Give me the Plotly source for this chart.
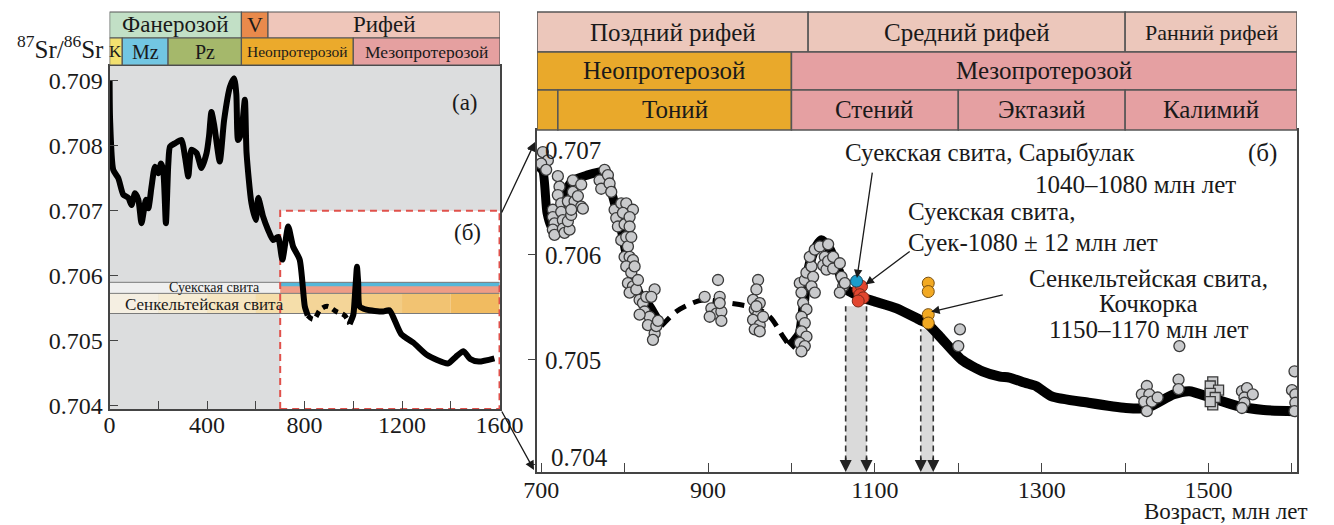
import plotly.graph_objects as go

FONT = "Liberation Serif"

# ---------------- Left panel (a): Sr curve 0-1600 Ma ----------------
left_age = [0, 2, 15, 36, 56, 77, 90, 104, 118, 131, 149, 159, 172, 186, 200, 211, 220, 231, 241, 248,
            268, 295, 309, 323, 336, 357, 377, 398, 408, 418, 430, 452, 470, 494, 511, 520, 527, 540,
            555, 562, 582, 600, 610, 630, 650, 671, 691, 709, 733, 753, 780, 801, 813]
left_sr = [0.7090, 0.7084, 0.70763, 0.7075, 0.70725, 0.7072, 0.70709, 0.70727, 0.70717, 0.70681,
           0.70717, 0.70704, 0.70737, 0.70768, 0.70758, 0.70773, 0.70763, 0.70681, 0.70773, 0.70799,
           0.70804, 0.70809, 0.70784, 0.70753, 0.70794, 0.70789, 0.70766, 0.70789, 0.70815, 0.70852,
           0.70830, 0.70776, 0.70840, 0.70891, 0.70904, 0.70880, 0.70809, 0.70820, 0.70871, 0.70789,
           0.70712, 0.70686, 0.70720, 0.70691, 0.70671, 0.70655, 0.70660, 0.70625, 0.70676, 0.70645,
           0.70625, 0.70553, 0.70539]
left_dash_age = [813, 837, 865, 893, 930, 964, 985]
left_dash_sr = [0.70539, 0.70533, 0.70548, 0.70553, 0.70545, 0.70539, 0.70526]
left_age2 = [985, 1000, 1006, 1012, 1015, 1020, 1026, 1054, 1122, 1148, 1197, 1247, 1303, 1388, 1420,
             1452, 1480, 1515, 1579]
left_sr2 = [0.70526, 0.70540, 0.70566, 0.70600, 0.70614, 0.70590, 0.70553, 0.70548, 0.70545, 0.70547,
            0.70510, 0.70497, 0.70478, 0.70465, 0.70475, 0.70484, 0.70472, 0.70468, 0.70473]

# ---------------- Right panel (б): 700-1600 Ma ----------------
right_age1 = [696, 702, 707, 713, 720, 728, 738, 755, 770, 778, 786, 796, 806, 818, 830, 844]
right_sr1 = [0.70685, 0.70680, 0.70640, 0.70625, 0.70640, 0.70660, 0.70671, 0.70676, 0.70679, 0.70680,
             0.70655, 0.70624, 0.70586, 0.70563, 0.70551, 0.70532]
right_dash_age = [844, 862, 878, 894, 910, 926, 942, 958, 974, 990, 998]
right_dash_sr = [0.70532, 0.70546, 0.70553, 0.70557, 0.70556, 0.70554, 0.70552, 0.70549, 0.70541,
                 0.70522, 0.70513]
right_age2 = [998, 1004, 1010, 1018, 1026, 1036, 1046, 1056, 1066, 1083, 1098, 1126, 1154, 1162, 1178,
              1204, 1229, 1250, 1261, 1280, 1293, 1312, 1356, 1401, 1426, 1458, 1477, 1502, 1534, 1566,
              1603]
right_sr2 = [0.70513, 0.70518, 0.70525, 0.70576, 0.70602, 0.70614, 0.70605, 0.70586, 0.70567, 0.70560,
             0.70556, 0.70549, 0.70538, 0.70535, 0.70522, 0.70500, 0.70489, 0.70484, 0.70483, 0.70478,
             0.70475, 0.70465, 0.70459, 0.70454, 0.70454, 0.70467, 0.70470, 0.70464, 0.70456, 0.70452,
             0.70451]

pts_age = [702, 708, 700, 706, 714, 714, 716, 714, 716, 720, 722, 720, 724, 724, 726, 726, 728, 734, 732,
           736, 734, 732, 738, 738, 740, 744, 748, 748, 750, 736,
           770, 776, 780, 772, 782, 784, 788, 790, 796, 802, 810, 792, 798, 800, 806, 806, 796, 802, 804,
           808, 800, 806, 810, 802, 808, 812, 804, 810, 806, 814, 816, 818, 822, 826, 836, 832, 824, 830,
           818, 828, 836, 838, 840, 834,
           896, 912, 914, 904, 910, 916, 902, 916, 914,
           960, 958, 954, 962, 956, 960, 954, 962, 956, 962, 966, 958,
           1010, 1016, 1018, 1012, 1014, 1018, 1012, 1016, 1012, 1018, 1010, 1016, 1012, 1024, 1026, 1024,
           1028, 1022, 1028, 1034, 1044, 1040, 1038, 1042, 1044, 1050, 1050, 1058, 1060, 1062, 1058, 1064,
           1202, 1200, 1465,
           1426, 1420, 1429, 1423, 1432, 1426, 1439, 1464, 1464,
           1540, 1546, 1543, 1553, 1543, 1540,
           1603, 1600, 1604, 1604, 1603]
pts_sr = [0.70698, 0.70690, 0.70687, 0.70681, 0.70643, 0.70636, 0.70630, 0.70624, 0.70619, 0.70675,
          0.70665, 0.70657, 0.70649, 0.70641, 0.70633, 0.70625, 0.70621, 0.70624, 0.70632, 0.70638,
          0.70648, 0.70651, 0.70671, 0.70660, 0.70651, 0.70656, 0.70667, 0.70646, 0.70644, 0.70643,
          0.70671, 0.70681, 0.70676, 0.70663, 0.70668, 0.70660, 0.70643, 0.70635, 0.70649, 0.70649,
          0.70643, 0.70627, 0.70640, 0.70629, 0.70636, 0.70627, 0.70614, 0.70617, 0.70608, 0.70617,
          0.70598, 0.70598, 0.70595, 0.70589, 0.70583, 0.70589, 0.70573, 0.70570, 0.70564, 0.70567,
          0.70576, 0.70557, 0.70554, 0.70560, 0.70567, 0.70560, 0.70546, 0.70541, 0.70543, 0.70533,
          0.70525, 0.70532, 0.70537, 0.70519,
          0.70560, 0.70576, 0.70560, 0.70549, 0.70544, 0.70546, 0.70541, 0.70537, 0.70554,
          0.70576, 0.70567, 0.70557, 0.70554, 0.70548, 0.70543, 0.70538, 0.70533, 0.70529, 0.70527,
          0.70541, 0.70551,
          0.70573, 0.70576, 0.70583, 0.70564, 0.70554, 0.70548, 0.70541, 0.70535, 0.70527, 0.70522,
          0.70516, 0.70513, 0.70508, 0.70589, 0.70579, 0.70570, 0.70564, 0.70598, 0.70605, 0.70608,
          0.70610, 0.70598, 0.70590, 0.70586, 0.70594, 0.70598, 0.70587, 0.70592, 0.70579, 0.70570,
          0.70564, 0.70573,
          0.70529, 0.70513, 0.70513,
          0.70475, 0.70467, 0.70467, 0.70460, 0.70460, 0.70451, 0.70464, 0.70481, 0.70472,
          0.70470, 0.70473, 0.70464, 0.70467, 0.70459, 0.70454,
          0.70489, 0.70471, 0.70467, 0.70459, 0.70451]
sq_age = [1505, 1502, 1512, 1502, 1505, 1508, 1502]
sq_sr = [0.70479, 0.70475, 0.70471, 0.70468, 0.70457, 0.70464, 0.70460]
blue_age = [1078]
blue_sr = [0.70575]
red_age = [1080, 1084, 1082, 1086, 1080]
red_sr = [0.70567, 0.70570, 0.70562, 0.70559, 0.70556]
orange_age = [1164, 1164, 1164, 1164]
orange_sr = [0.70573, 0.70565, 0.70543, 0.70535]

# Intervals (Ma) for the age headers
left_row1 = [("Фанерозой", 0, 541, "#c2e0c6"), ("V", 541, 650, "#e98a4c"), ("Рифей", 650, 1602, "#efc6ba")]
left_row2 = [("K", 0, 52, "#f2e070"), ("Mz", 52, 240, "#72c6e2"), ("Pz", 240, 541, "#a5b86b"),
             ("Неопротерозой", 541, 1000, "#ebaa2c"), ("Мезопротерозой", 1000, 1602, "#e5a0a0")]
left_row2_sizes = [17, 20, 20, 15.5, 17.5]
right_row1 = [("Поздний рифей", 695, 1020, "#ecc7bb"), ("Средний рифей", 1020, 1400, "#ecc7bb"),
              ("Ранний рифей", 1400, 1606, "#ecc7bb")]
right_row2 = [("Неопротерозой", 695, 1000, "#e9a92b"), ("Мезопротерозой", 1000, 1606, "#e5a0a2")]
right_row3 = [("", 695, 720, "#e9a92b"), ("Тоний", 720, 1000, "#e9a92b"), ("Стений", 1000, 1200, "#e5a0a2"),
              ("Эктазий", 1200, 1400, "#e5a0a2"), ("Калимий", 1400, 1606, "#e5a0a2")]

# Ages of the dated formations (vertical arrows)
band_suek = [1065, 1090]
band_senk = [1155, 1170]

LX = [0, 1602]
LY = [0.70395, 0.70923]
RX = [695, 1606]
RY = [0.70393, 0.70719]

# the page puts the figure 8 px in from the top-left corner
OFF = 8
W, H = 1334 - OFF, 525 - OFF


def px(x):
    return (x - OFF) / W


def py(y):
    return 1 - (y - OFF) / H


fig = go.Figure()

# ---- traces left ----
fig.add_trace(go.Scatter(x=left_age, y=left_sr, mode="lines", line=dict(color="black", width=6, shape="spline", smoothing=0.6),
                         xaxis="x", yaxis="y", showlegend=False))
fig.add_trace(go.Scatter(x=left_dash_age, y=left_dash_sr, mode="lines", line=dict(color="black", width=5, dash="6px,5px", shape="spline"),
                         xaxis="x", yaxis="y", showlegend=False))
fig.add_trace(go.Scatter(x=left_age2, y=left_sr2, mode="lines", line=dict(color="black", width=6, shape="spline", smoothing=0.6),
                         xaxis="x", yaxis="y", showlegend=False))

# ---- traces right ----
fig.add_trace(go.Scatter(x=right_age1, y=right_sr1, mode="lines", line=dict(color="black", width=9, shape="spline", smoothing=0.6),
                         xaxis="x2", yaxis="y2", showlegend=False))
fig.add_trace(go.Scatter(x=right_dash_age, y=right_dash_sr, mode="lines", line=dict(color="black", width=5, dash="12px,8px", shape="spline"),
                         xaxis="x2", yaxis="y2", showlegend=False))
fig.add_trace(go.Scatter(x=right_age2, y=right_sr2, mode="lines", line=dict(color="black", width=10, shape="spline", smoothing=0.6),
                         xaxis="x2", yaxis="y2", showlegend=False))
mk = dict(size=11, color="#c9cacc", line=dict(color="#3a3a3a", width=1.3))
fig.add_trace(go.Scatter(x=pts_age, y=pts_sr, mode="markers", marker=mk, xaxis="x2", yaxis="y2", showlegend=False))
fig.add_trace(go.Scatter(x=sq_age, y=sq_sr, mode="markers", marker=dict(mk, symbol="square", size=10),
                         xaxis="x2", yaxis="y2", showlegend=False))
fig.add_trace(go.Scatter(x=red_age, y=red_sr, mode="markers", marker=dict(size=12, color="#e2462f", line=dict(color="#7a2a1a", width=1)),
                         xaxis="x2", yaxis="y2", showlegend=False))
fig.add_trace(go.Scatter(x=blue_age, y=blue_sr, mode="markers", marker=dict(size=12, color="#1b9ccb", line=dict(color="#1a4a60", width=1)),
                         xaxis="x2", yaxis="y2", showlegend=False))
fig.add_trace(go.Scatter(x=orange_age, y=orange_sr, mode="markers", marker=dict(size=12, color="#f2a922", line=dict(color="#7a5010", width=1)),
                         xaxis="x2", yaxis="y2", showlegend=False))

shapes = []
ann = []

# left panel backgrounds
shapes.append(dict(type="rect", xref="x", yref="y", x0=LX[0], x1=LX[1], y0=LY[0], y1=LY[1],
                   fillcolor="#dcddde", line=dict(width=0), layer="below"))
shapes.append(dict(type="rect", xref="x", yref="y", x0=700, x1=LX[1], y0=LY[0], y1=0.707,
                   fillcolor="white", line=dict(width=0), layer="below"))
# formation bands
shapes.append(dict(type="rect", xref="x", yref="y", x0=0, x1=700, y0=0.70573, y1=0.70590,
                   fillcolor="#efefef", line=dict(width=0), layer="below"))
shapes.append(dict(type="rect", xref="x", yref="y", x0=700, x1=1600, y0=0.70573, y1=0.70590,
                   fillcolor="#ee9c86", line=dict(width=0), layer="below"))
shapes.append(dict(type="rect", xref="x", yref="y", x0=700, x1=1600, y0=0.70584, y1=0.70590,
                   fillcolor="#55b8da", line=dict(width=0), layer="below"))
senk_cols = ["#f5efe2", "#f6ecd4", "#f6e6c2", "#f5deaa", "#f4d598", "#f3cc84", "#f2c372", "#f1bb60"]
for i, c in enumerate(senk_cols):
    shapes.append(dict(type="rect", xref="x", yref="y", x0=i * 200, x1=(i + 1) * 200, y0=0.70542, y1=0.70573,
                       fillcolor=c, line=dict(width=0), layer="below"))
for yy in [0.70590, 0.70573, 0.70542]:
    shapes.append(dict(type="line", xref="x", yref="y", x0=0, x1=1600, y0=yy, y1=yy,
                       line=dict(color="#7a7a7a", width=1), layer="below"))
shapes.append(dict(type="rect", xref="x", yref="y", x0=700, x1=1600, y0=LY[0], y1=0.707,
                   line=dict(color="#e0514b", width=2, dash="7px,5px"), layer="below"))


# headers
def header(row, xref, top, bottom, sizes, lw=1.2):
    for i, (name, a, b, col) in enumerate(row):
        shapes.append(dict(type="rect", xref=xref, yref="paper", x0=a, x1=b, y0=py(bottom), y1=py(top),
                           fillcolor=col, line=dict(color="#555555", width=lw)))
        if name:
            ann.append(dict(xref=xref, yref="paper", x=(a + b) / 2, y=py((top + bottom) / 2), text=name,
                            showarrow=False, font=dict(family=FONT, size=sizes[i], color="#1a1a1a"),
                            xanchor="center", yanchor="middle"))


header(left_row1, "x", 12, 38, [23, 22, 23])
header(left_row2, "x", 38, 65, left_row2_sizes)
header(right_row1, "x2", 12, 52, [25, 25, 22], lw=1.5)
header(right_row2, "x2", 52, 90, [25, 25], lw=1.5)
header(right_row3, "x2", 90, 130, [25, 25, 25, 25, 25], lw=1.5)

# right panel: grey bands + dashed arrows
for (a, b), top in [(band_suek, 0.70551), (band_senk, 0.70529)]:
    shapes.append(dict(type="rect", xref="x2", yref="y2", x0=a, x1=b, y0=RY[0], y1=top,
                       fillcolor="#dadada", line=dict(width=0), layer="below"))
    for xv in (a, b):
        shapes.append(dict(type="line", xref="x2", yref="y2", x0=xv, x1=xv, y0=RY[0] + 0.0001, y1=top,
                           line=dict(color="#333333", width=1.6, dash="6px,4px"), layer="below"))
        ann.append(dict(xref="x2", yref="y2", x=xv, y=RY[0], ax=0, ay=-16, showarrow=True,
                        arrowhead=2, arrowsize=1.6, arrowwidth=1.5, arrowcolor="#222222", text=""))

# text annotations, left panel
tf = dict(family=FONT, color="#1a1a1a")
ann.append(dict(xref="paper", yref="paper", x=px(106), y=py(47), xanchor="right", yanchor="middle",
                text="<sup>87</sup>Sr/<sup>86</sup>Sr", showarrow=False, font=dict(tf, size=25)))
ann.append(dict(xref="x", yref="y", x=1460, y=0.70867, text="(a)", showarrow=False, font=dict(tf, size=23)))
ann.append(dict(xref="x", yref="y", x=1470, y=0.70666, text="(б)", showarrow=False, font=dict(tf, size=23)))
ann.append(dict(xref="x", yref="y", x=430, y=0.70582, text="Суекская свита", showarrow=False, font=dict(tf, size=14)))
ann.append(dict(xref="x", yref="y", x=390, y=0.705565, text="Сенкельтейская свита", showarrow=False, font=dict(tf, size=17)))

# right panel annotations
ann.append(dict(xref="x2", yref="y2", x=1565, y=0.70697, text="(б)", showarrow=False, font=dict(tf, size=25)))
ann.append(dict(xref="paper", yref="paper", x=px(990), y=py(152), text="Суекская свита, Сарыбулак",
                showarrow=False, font=dict(tf, size=25), xanchor="center", yanchor="middle"))
ann.append(dict(xref="paper", yref="paper", x=px(1238), y=py(184), text="1040–1080 млн лет",
                showarrow=False, font=dict(tf, size=25), xanchor="right", yanchor="middle"))
ann.append(dict(xref="paper", yref="paper", x=px(906), y=py(211), text="Суекская свита,",
                showarrow=False, font=dict(tf, size=25), xanchor="left", yanchor="middle"))
ann.append(dict(xref="paper", yref="paper", x=px(906), y=py(242), text="Суек-1080 ± 12 млн лет",
                showarrow=False, font=dict(tf, size=25), xanchor="left", yanchor="middle"))
ann.append(dict(xref="paper", yref="paper", x=px(1148), y=py(278), text="Сенкельтейская свита,",
                showarrow=False, font=dict(tf, size=25), xanchor="center", yanchor="middle"))
ann.append(dict(xref="paper", yref="paper", x=px(1148), y=py(303), text="Кочкорка",
                showarrow=False, font=dict(tf, size=25), xanchor="center", yanchor="middle"))
ann.append(dict(xref="paper", yref="paper", x=px(1148), y=py(329), text="1150–1170 млн лет",
                showarrow=False, font=dict(tf, size=25), xanchor="center", yanchor="middle"))
ann.append(dict(xref="paper", yref="paper", x=px(1310), y=py(511), text="Возраст, млн лет",
                showarrow=False, font=dict(tf, size=23), xanchor="right", yanchor="middle"))
# lowest tick label of the right panel sits just above the axis line
ann.append(dict(xref="paper", yref="y2", x=px(549), y=0.704, yshift=7, text="0.704", showarrow=False,
                font=dict(tf, size=25), xanchor="left", yanchor="middle"))

# pointer arrows to the dated samples
arr = dict(showarrow=True, arrowhead=2, arrowsize=1.3, arrowwidth=1.3, arrowcolor="#1a1a1a", text="", standoff=3)
ann.append(dict(arr, xref="x2", yref="y2", x=blue_age[0], y=blue_sr[0], ax=16, ay=-110))
ann.append(dict(arr, xref="x2", yref="y2", x=red_age[3], y=red_sr[1], ax=48, ay=-36))
ann.append(dict(arr, xref="x2", yref="y2", x=orange_age[2], y=orange_sr[2] + 0.00002, ax=76, ay=-18))

# connecting arrows between panels
conn = dict(showarrow=True, arrowhead=2, arrowsize=1.4, arrowwidth=1.3, arrowcolor="#1a1a1a", text="",
            xref="paper", yref="paper")
ann.append(dict(conn, x=px(535), y=py(142), ax=-34, ay=72))
ann.append(dict(conn, x=px(534), y=py(470), ax=-33, ay=-60))

axis_common = dict(showgrid=False, zeroline=False, showline=True, mirror=True, linecolor="#444444",
                   linewidth=2, tickcolor="#444444", automargin=False, ticklabeloverflow="allow",
                   tickfont=dict(family=FONT, size=24, color="#1a1a1a"))

fig.update_layout(
    width=W, height=H, margin=dict(l=0, r=0, t=0, b=0, autoexpand=False),
    paper_bgcolor="white", plot_bgcolor="white", showlegend=False,
    xaxis=dict(axis_common, domain=[px(109.6), px(500)], range=LX, anchor="y",
               tickvals=[0, 200, 400, 600, 800, 1000, 1200, 1400, 1600],
               ticktext=["0", " ", "400", " ", "800", " ", "1200", " ", "1600"],
               ticks="inside", ticklen=8, ticklabelstandoff=-7),
    yaxis=dict(axis_common, domain=[py(409), py(66)], range=LY, anchor="x",
               tickvals=[0.704, 0.705, 0.706, 0.707, 0.708, 0.709],
               ticktext=["0.704", "0.705", "0.706", "0.707", "0.708", "0.709"],
               ticks="inside", ticklen=8),
    xaxis2=dict(axis_common, domain=[px(537), px(1297)], range=RX, anchor="y2",
                tickvals=[700, 800, 900, 1000, 1100, 1200, 1300, 1400, 1500, 1600],
                ticktext=["700", " ", "900", " ", "1100", " ", "1300", " ", "1500", " "],
                ticks="inside", ticklen=9, ticklabelstandoff=-5),
    yaxis2=dict(axis_common, domain=[py(472), py(130)], range=RY, anchor="x2",
                tickvals=[0.704, 0.705, 0.706, 0.707],
                ticktext=[" ", "0.705", "0.706", "0.707"],
                ticks="outside", ticklen=7, ticklabelposition="inside", ticklabelstandoff=10,
                tickfont=dict(family=FONT, size=25, color="#1a1a1a")),
    shapes=shapes, annotations=ann,
)

fig.write_html("out.html")
